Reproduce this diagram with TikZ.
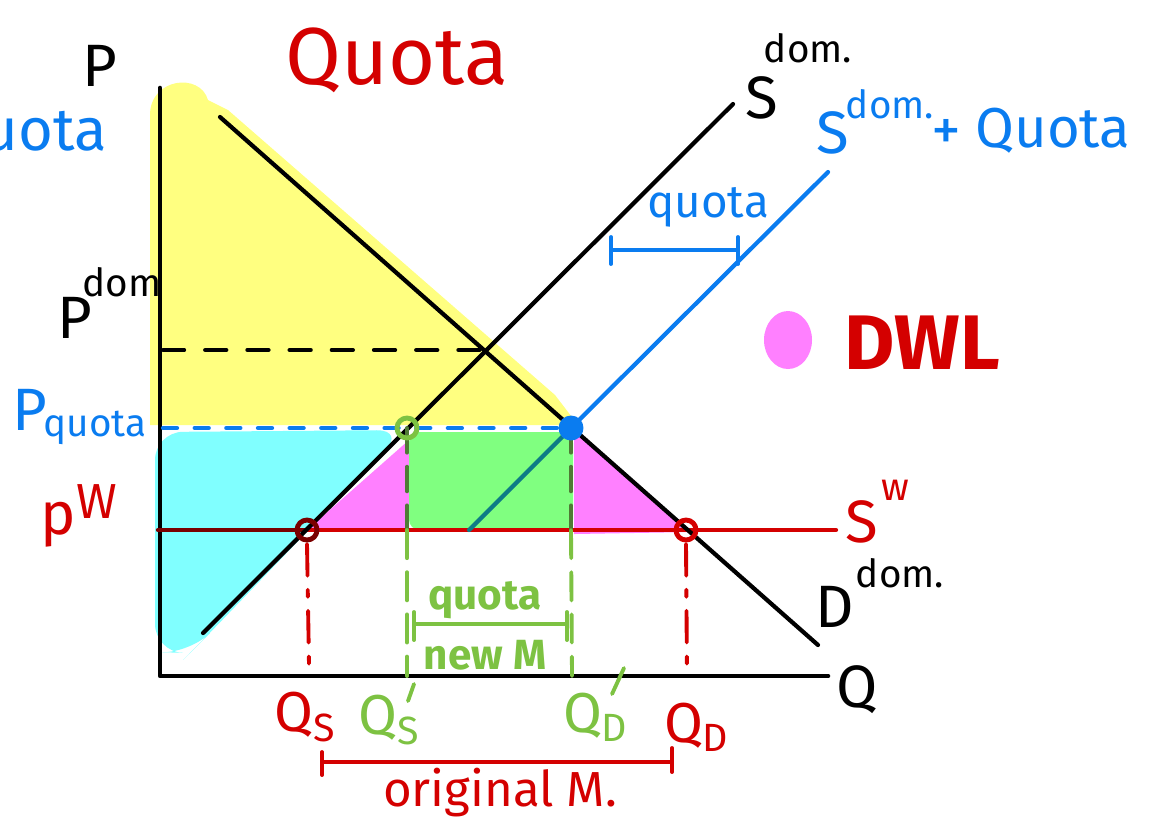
\documentclass[tikz,border=0pt]{standalone}
\usepackage{fontspec}
\setmainfont{Fira Sans}
\definecolor{qred}{HTML}{D40000}
\definecolor{qdred}{HTML}{7A0000}
\definecolor{qblue}{HTML}{0A7CF0}
\definecolor{qgreen}{HTML}{7DC242}
\definecolor{qdgreen}{HTML}{4F7A35}
\definecolor{qteal}{HTML}{0E7C86}
\definecolor{fyellow}{HTML}{FFFF80}
\definecolor{fcyan}{HTML}{80FFFF}
\definecolor{fpink}{HTML}{FF80FF}
\definecolor{fgreen}{HTML}{80FF80}
\begin{document}
\begin{tikzpicture}[x=0.01cm,y=-0.01cm,line cap=round,line join=round,
  curve/.style={line width=1.2pt},
  axisline/.style={line width=1.3pt},
  lbl/.style={inner sep=0pt,font=\fontsize{17}{17}\selectfont},
  qlbl/.style={inner sep=0pt,font=\fontsize{16}{16}\selectfont},
  smalllbl/.style={inner sep=0pt,font=\fontsize{11}{11}\selectfont},
  dot/.style={circle,draw,line width=1.4pt,minimum size=0.2cm,inner sep=0pt},
  reddash/.style={qred,line width=1.1pt,dash pattern=on 9pt off 4pt on 2pt off 4pt},
  greendash/.style={qgreen,line width=1.1pt,dash pattern=on 8pt off 4pt},
  bracket/.style={line width=1.1pt}]
\useasboundingbox (0,0) rectangle (1155,817);
\clip (0,0) rectangle (1155,817);

% key points
\coordinate (O) at (160,676);
\coordinate (Ytop) at (160,88);
\coordinate (Xend) at (828,676);
\coordinate (Dtop) at (220,117);
\coordinate (Dbot) at (818,645);
\coordinate (Sbot) at (203,633);
\coordinate (Stop) at (733,104);
\coordinate (E) at (485,350);
\coordinate (A) at (407,428);
\coordinate (B) at (571,428);
\coordinate (C) at (307,530);
\coordinate (F) at (686,530);
\coordinate (Qbot) at (469,530);
\coordinate (Qtop) at (828,172);
\coordinate (Ad) at (407,530);
\coordinate (Bd) at (571,530);

% fills
\fill[fyellow] (150,425) -- (150,115) .. controls (150,78) and (200,72) .. (208,100) -- (228,110) -- (555,395) -- (578,425) -- cycle;
\fill[fcyan,rounded corners=8pt] (155,432) -- (405,430) -- (203,640) -- (190,653) -- (155,652) -- cycle;
\fill[fpink] (C) -- (409,440) -- (409,530) -- cycle;
\fill[fpink] (574,432) -- (692,532) -- (574,534) -- cycle;
\fill[fgreen,rounded corners=3pt] (409,432) rectangle (573,530);

% axes
\draw[axisline] (Ytop) -- (O) -- (Xend);

% price lines
\draw[curve,dash pattern=on 6pt off 6pt] (163,350) -- (E);
\draw[qblue,line width=1.2pt,dash pattern=on 4pt off 5pt] (163,428) -- (B);
\draw[qdred,curve] (158,530) -- (C);
\draw[qred,curve] (C) -- (836,530);

% curves
\draw[curve] (Dtop) -- (Dbot);
\draw[curve] (Sbot) -- (Stop);
\draw[qteal,curve] (Qbot) -- (B);
\draw[qblue,curve] (B) -- (Qtop);

% verticals
\draw[qdgreen,line width=1.1pt,dash pattern=on 7pt off 4pt] (A) -- (Ad);
\draw[greendash] (Ad) -- (407,676);
\draw[qdgreen,line width=1.1pt,dash pattern=on 7pt off 4pt] (B) -- (Bd);
\draw[greendash] (Bd) -- (572,676);
\draw[reddash] (C) ++(0,14) -- (309,665);
\draw[reddash] (F) ++(0,14) -- (687,676);

% points
\node[dot,draw=qgreen] (pA) at (A) {};
\node[dot,draw=qblue,fill=qblue] (pB) at (B) {};
\node[dot,draw=qdred] (pC) at (C) {};
\node[dot,draw=qred] (pF) at (F) {};

% title & axis labels
\node[inner sep=0pt,text=qred,font=\fontsize{23}{23}\selectfont] (title) at (397,60) {Quota};
\node[lbl] (Plbl) at (100,66) {P};
\node[lbl] (Qlbl) at (857,690) {Q};
\node[lbl,text=qblue,anchor=east] (leftq) at (108,133) {Quota};

% curve labels
\node[lbl] (Sdom) at (762,98) {S};
\node[smalllbl] (Sdomsup) at (808,48) {dom.};
\node[lbl,text=qblue] (Sq) at (833,133) {S};
\node[smalllbl,text=qblue] (Sqsup) at (890,104) {dom.};
\node[lbl,text=qblue] (Sqplus) at (946,135) {+};
\node[qlbl,text=qblue] (Sqq) at (1053,131) {Quota};
\node[lbl] (Dlbl) at (835,607) {D};
\node[smalllbl] (Dsup) at (900,573) {dom.};
\node[lbl,text=qred] (Swl) at (862,522) {S};
\node[smalllbl,text=qred] (Swsup) at (895,490) {w};

% price labels
\node[lbl] (Pdom) at (75,318) {P};
\node[smalllbl] (Pdomsup) at (122,282) {dom};
\node[lbl,text=qblue] (Pq) at (30,410) {P};
\node[smalllbl,text=qblue] (Pqsub) at (95,428) {quota};
\node[lbl,text=qred] (pw) at (58,525) {p};
\node[smalllbl,text=qred,font=\fontsize{14}{14}\selectfont] (pwsup) at (97,502) {W};

% quota bracket (blue)
\draw[qblue,bracket] (611,250) -- (738,250);
\draw[qblue,bracket] (611,237) -- (611,264);
\draw[qblue,bracket] (738,237) -- (738,264);
\node[smalllbl,text=qblue,font=\fontsize{13}{13}\selectfont] (qtxt) at (708,207) {quota};

% DWL legend
\fill[fpink] (788,340) ellipse (24 and 29);
\node[inner sep=0pt,text=qred,font=\fontsize{22}{22}\selectfont\bfseries] (dwl) at (922,343) {DWL};

% new M bracket (green)
\draw[qgreen,bracket] (414,624) -- (567,624);
\draw[qgreen,bracket] (414,612) -- (414,640);
\draw[qgreen,bracket] (567,612) -- (567,640);
\node[smalllbl,text=qgreen,font=\fontsize{12}{12}\selectfont\bfseries] (gq) at (485,600) {quota};
\node[smalllbl,text=qgreen,font=\fontsize{12}{12}\selectfont\bfseries] (gm) at (485,655) {new M};

% quantity labels
\node[qlbl,text=qred] (QS) at (306,717) {Q\textsubscript{S}};
\node[qlbl,text=qgreen] (QSp) at (390,720) {Q\textsubscript{S}};
\draw[qgreen,line width=1.1pt] (408,701) -- (414,684);
\node[qlbl,text=qgreen] (QDp) at (596,717) {Q\textsubscript{D}};
\draw[qgreen,line width=1.1pt] (612,694) -- (624,668);
\node[qlbl,text=qred] (QD) at (697,727) {Q\textsubscript{D}};

% original M bracket (red)
\draw[qred,bracket] (322,762) -- (672,762);
\draw[qred,bracket] (322,752) -- (322,775);
\draw[qred,bracket] (672,748) -- (672,772);
\node[inner sep=0pt,text=qred,font=\fontsize{14}{14}\selectfont] (origM) at (500,793) {original M.};
\end{tikzpicture}
\end{document}
